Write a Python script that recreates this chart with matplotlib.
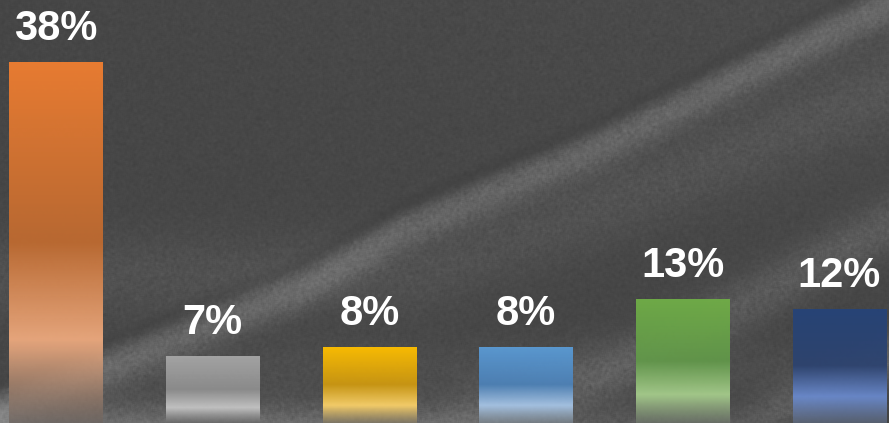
import numpy as np
import matplotlib
matplotlib.use("Agg")
import matplotlib.pyplot as plt
from matplotlib.colors import to_rgb

# Share values (percent) for the six bars, left to right
shares = [38, 7, 8, 8, 13, 12]
labels = ["38%", "7%", "8%", "8%", "13%", "12%"]

# Gradient stops per bar: top, shaded middle, highlight, faded base
top_colors = ["#ee7e32", "#a6a6a6", "#ffc000", "#5b9bd5", "#70ad47", "#264478"]
mid_colors = ["#c06b30", "#8f8f8f", "#cf9a10", "#4d82b8", "#62984a", "#2d4370"]
light_colors = ["#f3ad80", "#c9c9c9", "#ffd56a", "#a9c8ea", "#a9d18e", "#6a8bd0"]
base_colors = ["#6e6560", "#6a6a6a", "#847a64", "#7d8790", "#6f776b", "#5e6a80"]

W, H = 889, 423
fig = plt.figure(figsize=(W / 100, H / 100), dpi=100)

# ---- silky dark backdrop with diagonal light folds ----
bg_ax = fig.add_axes([0, 0, 1, 1])
bg_ax.set_axis_off()
yy, xx = np.mgrid[0:H, 0:W].astype(float)
bg = np.full((H, W), 70.0)
bg += 6.0 * (xx / W) - 9.0 * (yy / H) * (xx / W)


def fold(px, py, sigma, amp, shadow=0.0):
    yc = np.interp(xx, px, py)
    d = (yy - yc) * 0.9
    out = amp * np.exp(-0.5 * (d / sigma) ** 2)
    if shadow:
        out -= shadow * np.exp(-0.5 * ((d + sigma * 1.7) / (sigma * 0.45)) ** 2)
    return out


bg += fold([0, 300, 400, 600, 800, 889], [410, 290, 232, 147, 47, 5], 13, 28, shadow=9)
bg += fold([430, 600, 750, 889], [430, 375, 300, 225], 18, 20)
bg += fold([420, 617, 889], [275, 200, 90], 26, 11)
bg += fold([740, 889], [430, 355], 15, 22)
bg += fold([0, 120], [423, 370], 20, 8)
# soft, slightly blotchy grain of the fabric
grain = np.random.default_rng(7).normal(0.0, 1.0, (H, W))
k = np.ones(3) / 3.0
grain = np.apply_along_axis(lambda r: np.convolve(r, k, mode="same"), 1, grain)
grain = np.apply_along_axis(lambda c: np.convolve(c, k, mode="same"), 0, grain)
bg += 4.0 * grain * (1.0 + (bg - 70.0) / 15.0).clip(0.5, 2.5)
bg = np.clip(bg, 0, 255) / 255.0
bg_ax.imshow(np.dstack([bg, bg, bg]), extent=(0, W, H, 0), aspect="auto",
             interpolation="bilinear")
bg_ax.set_xlim(0, W)
bg_ax.set_ylim(H, 0)

# ---- bars ----
ax = fig.add_axes([0, 0, 1, 1])
ax.set_facecolor("none")
ax.patch.set_alpha(0)
x = np.arange(len(shares))
bars = ax.bar(x, shares, width=0.597, color="none", edgecolor="none")

stops = np.array([0.0, 0.5, 0.77, 1.0])
for i, patch in enumerate(bars):
    cols = np.array([to_rgb(c) for c in
                     (top_colors[i], mid_colors[i], light_colors[i], base_colors[i])])
    t = np.linspace(0, 1, 256)
    grad = np.stack([np.interp(t, stops, cols[:, k]) for k in range(3)], axis=-1)
    alpha = np.interp(t, [0, 0.8, 1.0], [0.97, 0.92, 0.75])
    rgba = np.concatenate([grad, alpha[:, None]], axis=-1)[:, None, :]
    x0 = patch.get_x()
    w = patch.get_width()
    h = patch.get_height()
    im = ax.imshow(rgba, extent=(x0, x0 + w, 0, h), aspect="auto",
                   origin="upper", interpolation="bilinear", zorder=2)
    im.set_clip_path(patch)
    patch.set_zorder(3)
    ax.annotate(labels[i], (x0 + w / 2, h), xytext=(0, 16),
                textcoords="offset points", ha="center", va="baseline",
                color="white", fontsize=30, fontweight="bold",
                family=["Liberation Sans", "DejaVu Sans"], zorder=4)

ax.set_xlim(-0.357, 5.316)
ax.set_ylim(0, 44.5)
ax.set_axis_off()

fig.savefig("out.png", dpi=100)
